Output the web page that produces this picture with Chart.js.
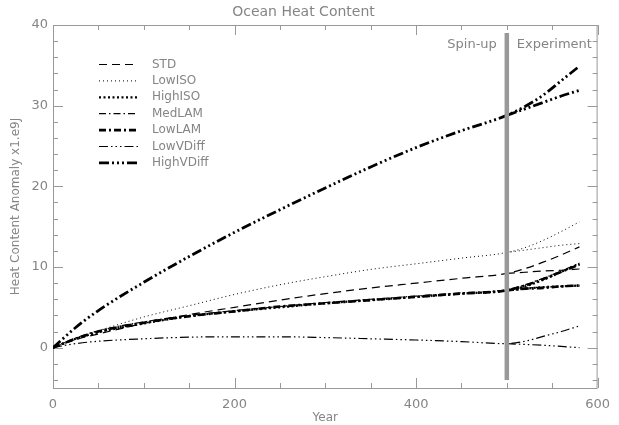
<!DOCTYPE html>
<html>
<head>
<meta charset="utf-8">
<script src="https://cdn.jsdelivr.net/npm/chart.js@4"></script>
<style>
  html, body { margin: 0; padding: 0; background: #fff; }
</style>
</head>
<body>
<canvas id="ohc" width="619" height="425"></canvas>
<script>
// years of the spin-up run and of the experiment branch
const spinYears = [0, 25, 50, 100, 150, 200, 250, 300, 350, 400, 450, 500];
const expYears = [500, 520, 540, 560, 580];

// heat content anomaly (x1.e9J)
const stdSpin = [0, 1.0, 1.7, 3.0, 4.1, 5.0, 5.9, 6.7, 7.4, 8.0, 8.6, 9.2];
const stdExpA = [9.2, 9.8, 10.6, 11.5, 12.5];
const stdExpB = [9.2, 9.35, 9.5, 9.6, 9.75];

const lowIsoSpin = [0, 1.2, 2.1, 3.8, 5.2, 6.6, 7.8, 8.8, 9.7, 10.4, 11.1, 11.8];
const lowIsoExpA = [11.8, 12.4, 13.3, 14.4, 15.6];
const lowIsoExpB = [11.8, 12.1, 12.4, 12.7, 12.9];

const highIsoSpin = [0, 1.1, 1.9, 3.0, 3.9, 4.5, 5.0, 5.5, 5.9, 6.3, 6.7, 7.1];
const highIsoExpA = [7.1, 7.6, 8.4, 9.4, 10.4];
const highIsoExpB = [7.1, 7.3, 7.5, 7.6, 7.7];

const medLamSpin = [0, 1.2, 2.1, 3.2, 4.0, 4.6, 5.1, 5.6, 6.0, 6.4, 6.8, 7.2];
const medLamExpA = [7.2, 7.8, 8.6, 9.5, 10.5];
const medLamExpB = [7.2, 7.4, 7.5, 7.6, 7.7];

const lowLamSpin = [0, 1.1, 2.0, 3.1, 3.9, 4.5, 5.1, 5.5, 5.9, 6.3, 6.7, 7.1];
const lowLamExpA = [7.1, 7.7, 8.5, 9.4, 10.3];
const lowLamExpB = [7.1, 7.3, 7.4, 7.6, 7.7];

const lowVDiffSpin = [0, 0.5, 0.8, 1.1, 1.3, 1.35, 1.35, 1.25, 1.1, 0.95, 0.75, 0.5];
const lowVDiffExpA = [0.5, 0.8, 1.4, 2.0, 2.7];
const lowVDiffExpB = [0.5, 0.4, 0.3, 0.15, 0.0];

const highVDiffSpin = [0, 2.5, 4.6, 8.1, 11.3, 14.3, 17.1, 19.8, 22.4, 24.8, 26.9, 28.8];
const highVDiffExpA = [28.8, 29.9, 31.3, 33.1, 34.9];
const highVDiffExpB = [28.8, 29.6, 30.4, 31.2, 31.9];

const xTicks = [0, 200, 400, 600];
const yTicks = [0, 10, 20, 30, 40];
const switchYear = 500;

const textColor = '#858585';
const frameColor = '#999';

// IDL style line styles
const series = [
  { label: 'STD', spin: stdSpin, a: stdExpA, b: stdExpB, dash: [8, 5], width: 1.2 },
  { label: 'LowISO', spin: lowIsoSpin, a: lowIsoExpA, b: lowIsoExpB, dash: [1, 3], width: 1 },
  { label: 'HighISO', spin: highIsoSpin, a: highIsoExpA, b: highIsoExpB, dash: [2, 2.5], width: 2.2 },
  { label: 'MedLAM', spin: medLamSpin, a: medLamExpA, b: medLamExpB, dash: [7, 3, 1.5, 3], width: 1.2 },
  { label: 'LowLAM', spin: lowLamSpin, a: lowLamExpA, b: lowLamExpB, dash: [7, 3, 2, 3], width: 2.6 },
  { label: 'LowVDiff', spin: lowVDiffSpin, a: lowVDiffExpA, b: lowVDiffExpB, dash: [9, 3, 1.5, 3, 1.5, 3, 1.5, 3], width: 1.2 },
  { label: 'HighVDiff', spin: highVDiffSpin, a: highVDiffExpA, b: highVDiffExpB, dash: [10, 3, 2, 3, 2, 3, 2, 3], width: 2.8 },
];

const pts = (xs, ys) => ys.map((y, i) => ({ x: xs[i], y: y }));

const datasets = [];
series.forEach(s => {
  const base = {
    borderColor: '#000',
    borderWidth: s.width,
    borderDash: s.dash,
    borderCapStyle: 'butt',
    pointRadius: 0,
    fill: false,
    cubicInterpolationMode: 'monotone',
    order: 1
  };
  datasets.push({ ...base, label: s.label,
    data: pts(spinYears.concat(expYears.slice(1)), s.spin.concat(s.a.slice(1))) });
  datasets.push({ ...base, label: s.label + ' exp',
    data: pts(expYears, s.b) });
});
// grey marker between spin-up and experiment
datasets.push({
  label: 'switch',
  data: pts([switchYear, switchYear], [-4, 39]),
  borderColor: '#999',
  borderWidth: 4.5,
  pointRadius: 0,
  order: 0
});

// frame with inside ticks on all four sides, like IDL plots
const framePlugin = {
  id: 'frame',
  beforeDatasetsDraw(chart) {
    const { ctx, chartArea: a, scales: { x, y } } = chart;
    ctx.save();
    ctx.strokeStyle = frameColor;
    ctx.lineWidth = 1;
    ctx.strokeRect(a.left + 0.5, a.top + 0.5, a.right - a.left - 1, a.bottom - a.top);
    ctx.beginPath();
    for (let v = 0; v <= 600; v += 50) {
      const px = Math.round(x.getPixelForValue(v)) + 0.5;
      const len = v % 200 === 0 ? 10 : 5;
      ctx.moveTo(px, a.bottom); ctx.lineTo(px, a.bottom - len);
      ctx.moveTo(px, a.top); ctx.lineTo(px, a.top + len);
    }
    for (let v = -4; v <= 40; v += 2) {
      const py = Math.round(y.getPixelForValue(v)) + 0.5;
      const len = v % 10 === 0 ? 10 : 5;
      ctx.moveTo(a.left, py); ctx.lineTo(a.left + len, py);
      ctx.moveTo(a.right, py); ctx.lineTo(a.right - len, py);
    }
    ctx.stroke();
    ctx.restore();
  },
  afterDatasetsDraw(chart) {
    const { ctx, scales: { x, y } } = chart;
    ctx.save();
    // legend inside the plot
    ctx.font = '12px "DejaVu Sans"';
    ctx.textBaseline = 'middle';
    ctx.fillStyle = textColor;
    series.forEach((s, i) => {
      const ly = 64.5 + i * 16.4;
      ctx.beginPath();
      ctx.strokeStyle = '#000';
      ctx.lineWidth = s.width;
      ctx.lineCap = 'butt';
      ctx.setLineDash(s.dash);
      ctx.moveTo(99, ly);
      ctx.lineTo(138, ly);
      ctx.stroke();
      ctx.fillText(s.label, 152, ly);
    });
    // spin-up / experiment labels
    ctx.font = '13px "DejaVu Sans"';
    const sx = x.getPixelForValue(switchYear);
    ctx.textAlign = 'right';
    ctx.fillText('Spin-up', sx - 10, 45);
    ctx.textAlign = 'left';
    ctx.fillText('Experiment', sx + 10, 45);
    ctx.restore();
  }
};

new Chart(document.getElementById('ohc'), {
  type: 'line',
  data: { datasets: datasets },
  options: {
    responsive: false,
    animation: false,
    devicePixelRatio: 1,
    layout: { padding: { left: 0, right: 12, top: 0, bottom: 0 } },
    plugins: {
      legend: { display: false },
      tooltip: { enabled: false },
      title: {
        display: true,
        text: 'Ocean Heat Content',
        color: textColor,
        font: { family: 'DejaVu Sans', size: 14, weight: 'normal' },
        padding: { top: 3.5, bottom: 4.7 }
      }
    },
    scales: {
      x: {
        type: 'linear',
        min: 0,
        max: 600,
        afterBuildTicks: s => { s.ticks = xTicks.map(v => ({ value: v })); },
        afterFit: s => { s.height = 37; },
        grid: { display: false, drawTicks: false },
        border: { display: false },
        ticks: { color: textColor, font: { family: 'DejaVu Sans', size: 13 }, padding: 9, maxRotation: 0 },
        title: { display: true, text: 'Year', color: textColor,
          font: { family: 'DejaVu Sans', size: 12 }, padding: 0 }
      },
      y: {
        min: -5,
        max: 40,
        afterBuildTicks: s => { s.ticks = yTicks.map(v => ({ value: v })); },
        afterFit: s => { s.width = 53; },
        grid: { display: false, drawTicks: false },
        border: { display: false },
        ticks: { color: textColor, font: { family: 'DejaVu Sans', size: 13 }, padding: 5 },
        title: { display: true, text: 'Heat Content Anomaly x1.e9J', color: textColor,
          font: { family: 'DejaVu Sans', size: 12 }, padding: { top: 9, bottom: 0 } }
      }
    }
  },
  plugins: [framePlugin]
});
</script>
</body>
</html>
